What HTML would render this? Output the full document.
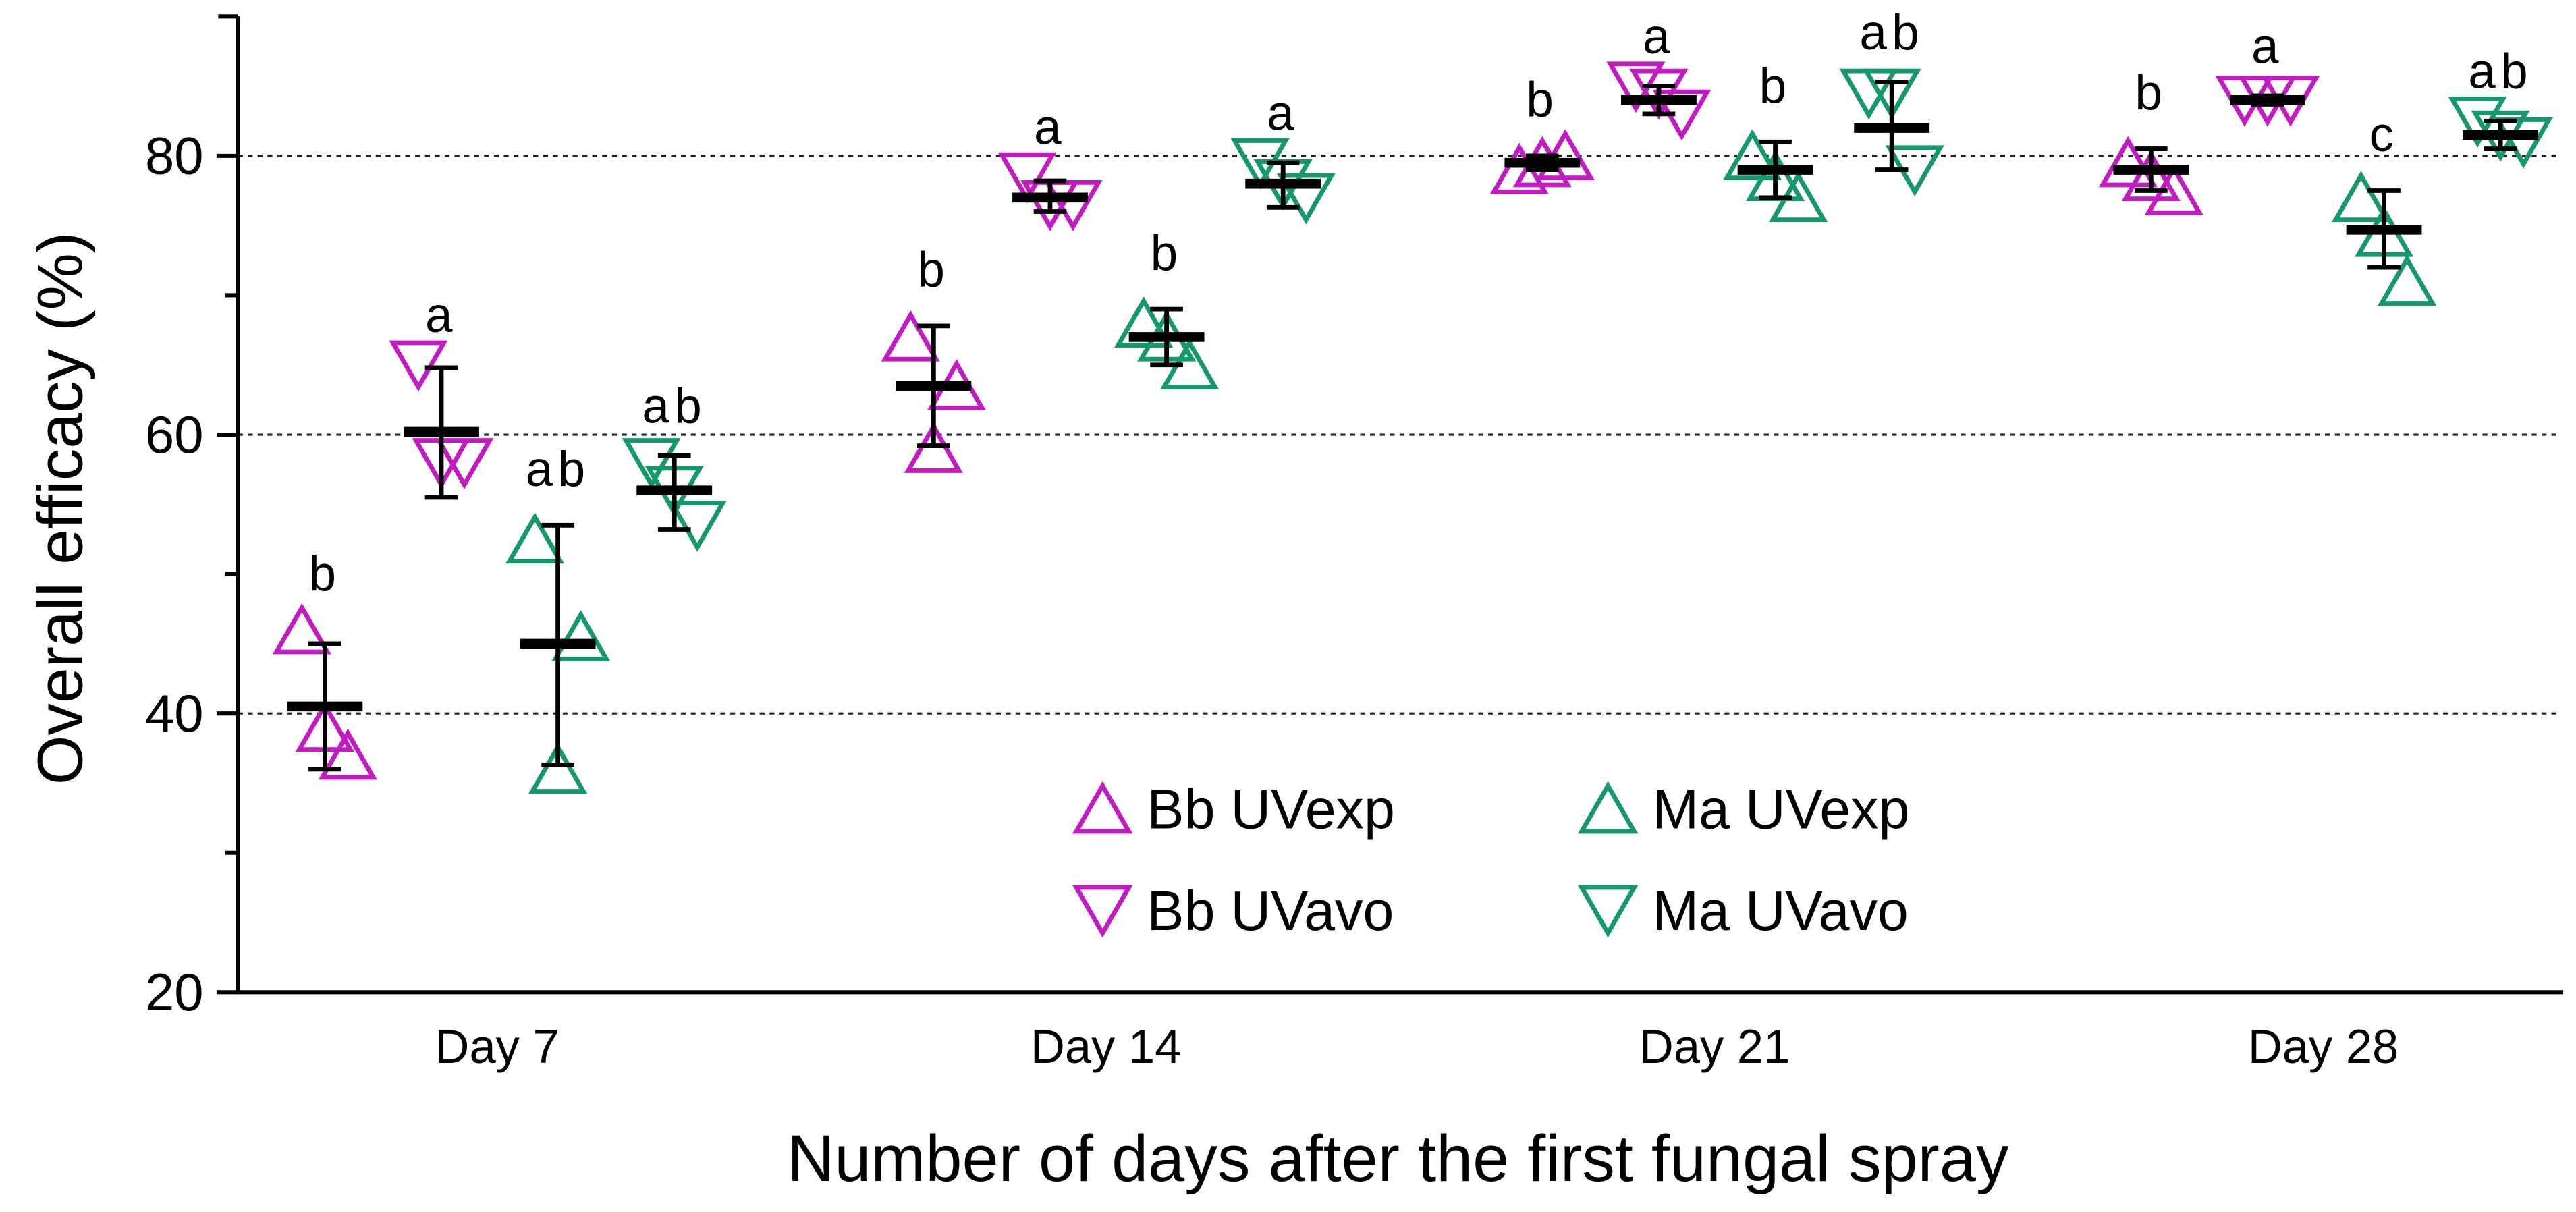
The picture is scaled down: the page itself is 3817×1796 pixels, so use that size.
<!DOCTYPE html>
<html><head><meta charset="utf-8">
<style>html,body{margin:0;padding:0;background:#fff}svg{display:block}</style></head>
<body>
<svg id="chart" width="3817" height="1796" viewBox="0 0 1570 739" preserveAspectRatio="none" xmlns="http://www.w3.org/2000/svg" font-family="'Liberation Sans', sans-serif"></svg>
<script>
const days = ["Day 7","Day 14","Day 21","Day 28"];
const seriesNames = ["Bb UVexp","Bb UVavo","Ma UVexp","Ma UVavo"];
const bbExpPoints = [[46,37,39],[67,63.5,59],[79,80,79.5],[79.5,77.5,78.5]];
const bbAvoPoints = [[65,58,58],[78.5,76.5,76.5],[85,83,84.5],[84,84,84]];
const maExpPoints = [[52.5,45.5,36],[68,65,67],[80,77,78.5],[77,71,74.5]];
const maAvoPoints = [[58,53.5,56],[79.5,77,78],[84.5,79,84.5],[82.5,81,81.5]];
const bbExpMean = [40.5,63.5,79.5,79]; const bbExpHi=[45,67.8,80,80.5]; const bbExpLo=[36,59.2,79,77.5];
const bbAvoMean = [60.2,77,84,84]; const bbAvoHi=[64.8,78.2,85,84.3]; const bbAvoLo=[55.5,76,83,83.7];
const maExpMean = [45,67,79,74.7]; const maExpHi=[53.5,69,81,77.5]; const maExpLo=[36.3,65,77,72];
const maAvoMean = [56,78,82,81.5]; const maAvoHi=[58.5,79.5,85.3,82.5]; const maAvoLo=[53.2,76.3,79,80.5];
const bbExpLetters=["b","b","b","b"]; const bbAvoLetters=["a","a","a","a"];
const maExpLetters=["ab","b","b","c"]; const maAvoLetters=["ab","a","ab","ab"];
const yTicks=[20,40,60,80]; const yMinor=[30,50,70]; const gridVals=[40,60,80];

const svg=document.getElementById('chart');
const NS="http://www.w3.org/2000/svg";
const y=v=>605-(v-20)*8.5;
const xBase=i=>198+371*i;
function mk(tag,attrs,parent){const e=document.createElementNS(NS,tag);for(const k in attrs)e.setAttribute(k,attrs[k]);(parent||svg).appendChild(e);return e;}
const MAG="#c21bc2", GRN="#16996a";
gridVals.forEach(v=>{const l=mk('line',{x1:145,x2:1560,y1:y(v),y2:y(v),stroke:'#222','stroke-width':1.3,'stroke-dasharray':'3,3'});

});
const ya=mk('line',{x1:145,x2:145,y1:10,y2:606,stroke:'#000','stroke-width':2.5});


const xa=mk('line',{x1:144,x2:1562,y1:605,y2:605,stroke:'#000','stroke-width':2.5});


mk('line',{x1:133,x2:145,y1:10,y2:10,stroke:'#000','stroke-width':2.5});
yTicks.forEach(v=>{mk('line',{x1:132,x2:145,y1:y(v),y2:y(v),stroke:'#000','stroke-width':2.5});
const t=mk('text',{x:124,y:y(v)+11,'text-anchor':'end','font-size':32,fill:'#000'});t.textContent=v;

});
yMinor.forEach(v=>mk('line',{x1:137,x2:145,y1:y(v),y2:y(v),stroke:'#000','stroke-width':2.5}));
days.forEach((d,i)=>{const t=mk('text',{x:xBase(i)+105,y:648,'text-anchor':'middle','font-size':29,fill:'#000'});t.textContent=d;

});
const yt=mk('text',{x:0,y:0,transform:'translate(50,310) rotate(-90)','text-anchor':'middle','font-size':39,fill:'#000'});yt.textContent="Overall efficacy (%)";


const xt=mk('text',{x:852,y:720,'text-anchor':'middle','font-size':40,fill:'#000'});xt.textContent="Number of  days after the first fungal spray";



function tri(cx,cy,up,color,size,parent){const h=size*0.87,w=size/2;
const pts=up?`${cx-w},${cy+h/2} ${cx+w},${cy+h/2} ${cx},${cy-h/2}`:`${cx-w},${cy-h/2} ${cx+w},${cy-h/2} ${cx},${cy+h/2}`;
return mk('polygon',{points:pts,fill:'none',stroke:color,'stroke-width':2.8},parent);}
const series=[
 {pts:bbExpPoints,mean:bbExpMean,hi:bbExpHi,lo:bbExpLo,let:bbExpLetters,up:true,c:MAG,n:'bb-uvexp'},
 {pts:bbAvoPoints,mean:bbAvoMean,hi:bbAvoHi,lo:bbAvoLo,let:bbAvoLetters,up:false,c:MAG,n:'bb-uvavo'},
 {pts:maExpPoints,mean:maExpMean,hi:maExpHi,lo:maExpLo,let:maExpLetters,up:true,c:GRN,n:'ma-uvexp'},
 {pts:maAvoPoints,mean:maAvoMean,hi:maAvoHi,lo:maAvoLo,let:maAvoLetters,up:false,c:GRN,n:'ma-uvavo'}];
series.forEach((s,si)=>{days.forEach((d,di)=>{
 const cx=xBase(di)+71*si;
 const g=mk('g',{});
 
 
 s.pts[di].forEach((v,pi)=>{const off=[-14,14,0][pi];
  const p=tri(cx+off,y(v),s.up,s.c,31,g);
  
  });
 mk('line',{x1:cx,x2:cx,y1:y(s.hi[di]),y2:y(s.lo[di]),stroke:'#000','stroke-width':2.8},g);
 mk('line',{x1:cx-10,x2:cx+10,y1:y(s.hi[di]),y2:y(s.hi[di]),stroke:'#000','stroke-width':2.8},g);
 mk('line',{x1:cx-10,x2:cx+10,y1:y(s.lo[di]),y2:y(s.lo[di]),stroke:'#000','stroke-width':2.8},g);
 const m=mk('line',{x1:cx-23,x2:cx+23,y1:y(s.mean[di]),y2:y(s.mean[di]),stroke:'#000','stroke-width':6},g);
 
 
 const top=Math.max(s.hi[di],...s.pts[di]);
 const lt=mk('text',{x:cx,y:y(top)-(s.up?24:20),'text-anchor':'middle','font-size':30,fill:'#000','letter-spacing':3},g);
 lt.textContent=s.let[di];
 
 
});});
const lg=mk('g',{});


const legPos=[[672,493],[672,555],[980,493],[980,555]];
series.forEach((s,i)=>{const [lx,ly]=legPos[i];
 const e=mk('g',{},lg);
 
 
 tri(lx,ly,s.up,s.c,32,e);
 const t=mk('text',{x:lx+27,y:ly+12,'font-size':34,fill:'#000'},e);t.textContent=seriesNames[i];});
</script>
</body></html>
